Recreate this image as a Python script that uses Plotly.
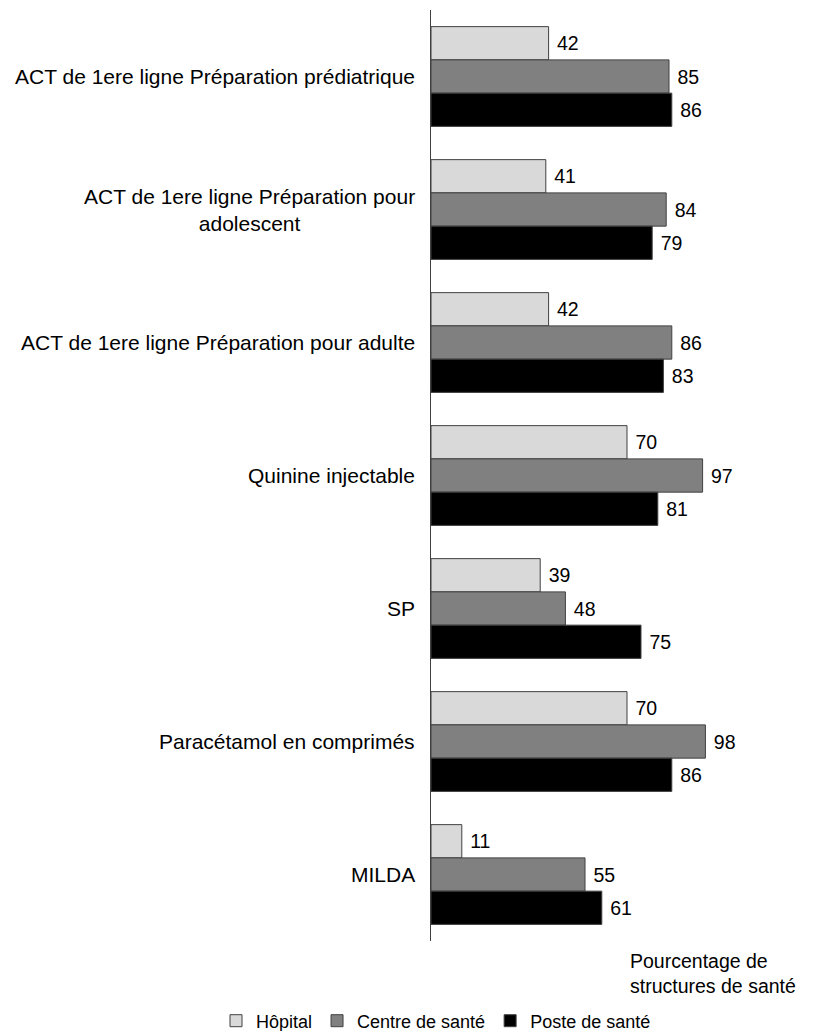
import plotly.graph_objects as go

categories = [
    "ACT de 1ere ligne Préparation prédiatrique",
    "ACT de 1ere ligne Préparation pour<br>adolescent",
    "ACT de 1ere ligne Préparation pour adulte",
    "Quinine injectable",
    "SP",
    "Paracétamol en comprimés",
    "MILDA",
]
hopital = [42, 41, 42, 70, 39, 70, 11]
centre = [85, 84, 86, 97, 48, 98, 55]
poste = [86, 79, 83, 81, 75, 86, 61]

series = [
    ("Hôpital", hopital, "#d9d9d9"),
    ("Centre de santé", centre, "#808080"),
    ("Poste de santé", poste, "#000000"),
]

FONT = "Arial, 'Liberation Sans', sans-serif"

OFF = 8  # default page body margin
W, H = 813, 1031
ML = 431 - OFF
MT = 10 - OFF
PW = 280
PH = 931
MR = W - ML - PW
MB = H - MT - PH

fig = go.Figure()
for name, vals, color in series:
    fig.add_trace(go.Bar(
        y=categories, x=vals, name=name, orientation="h",
        marker=dict(color=color, line=dict(color="#404040", width=1)),
        text=vals, texttemplate="\u00a0%{x}", textposition="outside",
        textfont=dict(size=19.5, color="#000000", family=FONT),
        cliponaxis=False,
    ))

# category labels as annotations (centered multi-line)
for cat in categories:
    fig.add_annotation(
        x=0, y=cat, xref="paper", yref="y", text=cat, showarrow=False,
        xanchor="right", yanchor="middle", align="center", xshift=-14,
        font=dict(size=21, color="#000000", family=FONT),
    )

# axis title
fig.add_annotation(
    x=(628 - OFF - ML) / PW, y=(MT + PH - (973 - OFF)) / PH, xref="paper", yref="paper",
    text="Pourcentage de<br>structures de santé",
    showarrow=False, xanchor="left", yanchor="middle", align="left",
    font=dict(size=19.5, color="#000000", family=FONT),
)

fig.update_layout(
    width=W, height=H,
    margin=dict(l=ML, r=MR, t=MT, b=MB, autoexpand=False),
    plot_bgcolor="white", paper_bgcolor="white",
    barmode="group", bargap=0.25, bargroupgap=0,
    font=dict(family=FONT, size=18, color="#000000"),
    xaxis=dict(range=[0, 100], visible=False),
    yaxis=dict(autorange="reversed", showticklabels=False, ticks="",
               showline=True, linecolor="#404040", linewidth=1, showgrid=False),
    legend=dict(orientation="h",
                x=(216 - OFF - ML) / PW, xanchor="left",
                y=-(1021 - (MT + PH + OFF)) / PH, yanchor="middle",
                font=dict(size=18, family=FONT), itemwidth=30, traceorder="normal"),
    showlegend=True,
)

fig.write_html("out.html")
